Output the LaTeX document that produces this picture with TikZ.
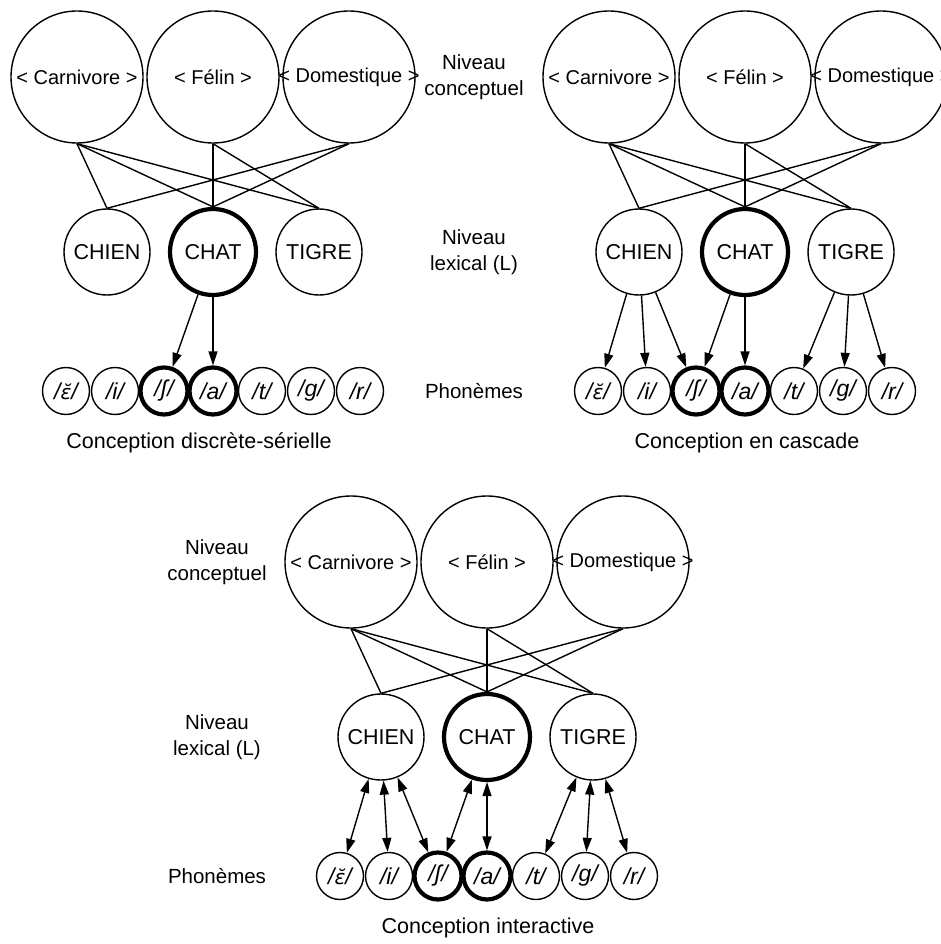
\documentclass[tikz,border=0pt]{standalone}
\usepackage{fontspec}
\setmainfont{Liberation Sans}
\newfontfamily\ipafont{DejaVu Sans}
\usepackage{tikz}
\usetikzlibrary{arrows.meta}
\newcommand{\conceptDiameter}{132}
\newcommand{\lexDiameter}{86}
\newcommand{\phonDiameter}{47}
\newcommand{\conceptDistance}{136}
\newcommand{\lexDistance}{106}
\newcommand{\phonDistance}{49}
\newcommand{\lexLevel}{175}
\newcommand{\phonLevel}{314}
\newcommand{\captionLevel}{366}
\newcommand{\epsBreve}{{\ipafont\fontsize{20}{24}\selectfont ε̆}}
\newcommand{\conceptNames}{0/carn/Carnivore, 1/fel/F\'elin, 2/dom/Domestique}
\newcommand{\lexNames}{0/chien/CHIEN/lexnode, 1/chat/CHAT/lexactive, 2/tigre/TIGRE/lexnode}
\newcommand{\phonNames}{0/e/\epsBreve/phonnode, 1/i/i/phonnode, 2/ch/ʃ/phonactive, 3/a/a/phonactive, 4/t/t/phonnode, 5/g/g/phonnode, 6/r/r/phonnode}
\newcommand{\linkNames}{carn/chien, carn/chat, carn/tigre, fel/chat, fel/tigre, dom/chien, dom/chat}
\newcommand{\arrowNames}{chien/e, chien/i, chien/ch, chat/ch, chat/a, tigre/t, tigre/g, tigre/r}
\tikzset{
	concept/.style={circle, draw, line width=1.4pt, minimum size=\conceptDiameter pt, inner sep=0pt, font=\fontsize{20}{22}\selectfont},
	lexnode/.style={circle, draw, line width=1.4pt, minimum size=\lexDiameter pt, inner sep=0pt, font=\fontsize{21.5}{24}\selectfont},
	lexactive/.style={lexnode, line width=4.2pt},
	phonnode/.style={circle, draw, line width=1.4pt, minimum size=\phonDiameter pt, inner sep=0pt, font=\fontsize{23}{24}\selectfont\itshape},
	phonactive/.style={phonnode, line width=4.2pt},
	levellabel/.style={align=center, font=\fontsize{20.5}{26}\selectfont},
	captionlabel/.style={font=\fontsize{21.5}{24}\selectfont},
	link/.style={line width=1.4pt},
	>={Triangle[length=14pt,width=9pt]}
}
% three levels of one panel, #1 = prefix of the node names
\newcommand{\drawLevels}[1]{
	\foreach \idx/\key/\name in \conceptNames
		\node[concept] (#1-\key) at (\idx*\conceptDistance - \conceptDistance, 0) {\makebox[0pt]{< \name\ >}};
	\foreach \idx/\key/\name/\kind in \lexNames
		\node[\kind] (#1-\key) at (\idx*\lexDistance - \lexDistance, \lexLevel) {\makebox[0pt]{\name}};
	\foreach \idx/\key/\name/\kind in \phonNames
		\node[\kind] (#1-\key) at (\idx*\phonDistance - 3*\phonDistance, \phonLevel) {\makebox[0pt]{/\name/}};
	\foreach \from/\to in \linkNames
		\draw[link] (#1-\from.south) -- (#1-\to.north);
}
\begin{document}
\begin{tikzpicture}[x=1pt,y=-1pt]
	\useasboundingbox (0,0) rectangle (940,944);

	% discrete-serielle
	\begin{scope}[shift={(213,77)}]
		\drawLevels{A}
		\foreach \from/\to in {chat/ch, chat/a}
			\draw[link,->] (A-\from) -- (A-\to);
		\node[levellabel] (A-labconc) at (261,0) {Niveau\\conceptuel};
		\node[levellabel] (A-lablex) at (261,\lexLevel) {Niveau\\lexical (L)};
		\node[levellabel] (A-labphon) at (261,\phonLevel) {Phonèmes};
		\node[captionlabel] (A-caption) at (-14,\captionLevel) {Conception discrète-sérielle};
	\end{scope}

	% cascade
	\begin{scope}[shift={(745,77)}]
		\drawLevels{B}
		\foreach \from/\to in \arrowNames
			\draw[link,->] (B-\from) -- (B-\to);
		\node[captionlabel] (B-caption) at (2,\captionLevel) {Conception en cascade};
	\end{scope}

	% interactive
	\begin{scope}[shift={(487,562)}]
		\drawLevels{C}
		\foreach \from/\to in \arrowNames
			\draw[link,<->] (C-\from) -- (C-\to);
		\node[levellabel] (C-labconc) at (-270,0) {Niveau\\conceptuel};
		\node[levellabel] (C-lablex) at (-270,\lexLevel) {Niveau\\lexical (L)};
		\node[levellabel] (C-labphon) at (-270,\phonLevel) {Phonèmes};
		\node[captionlabel] (C-caption) at (1,\captionLevel) {Conception interactive};
	\end{scope}
\end{tikzpicture}
\end{document}
